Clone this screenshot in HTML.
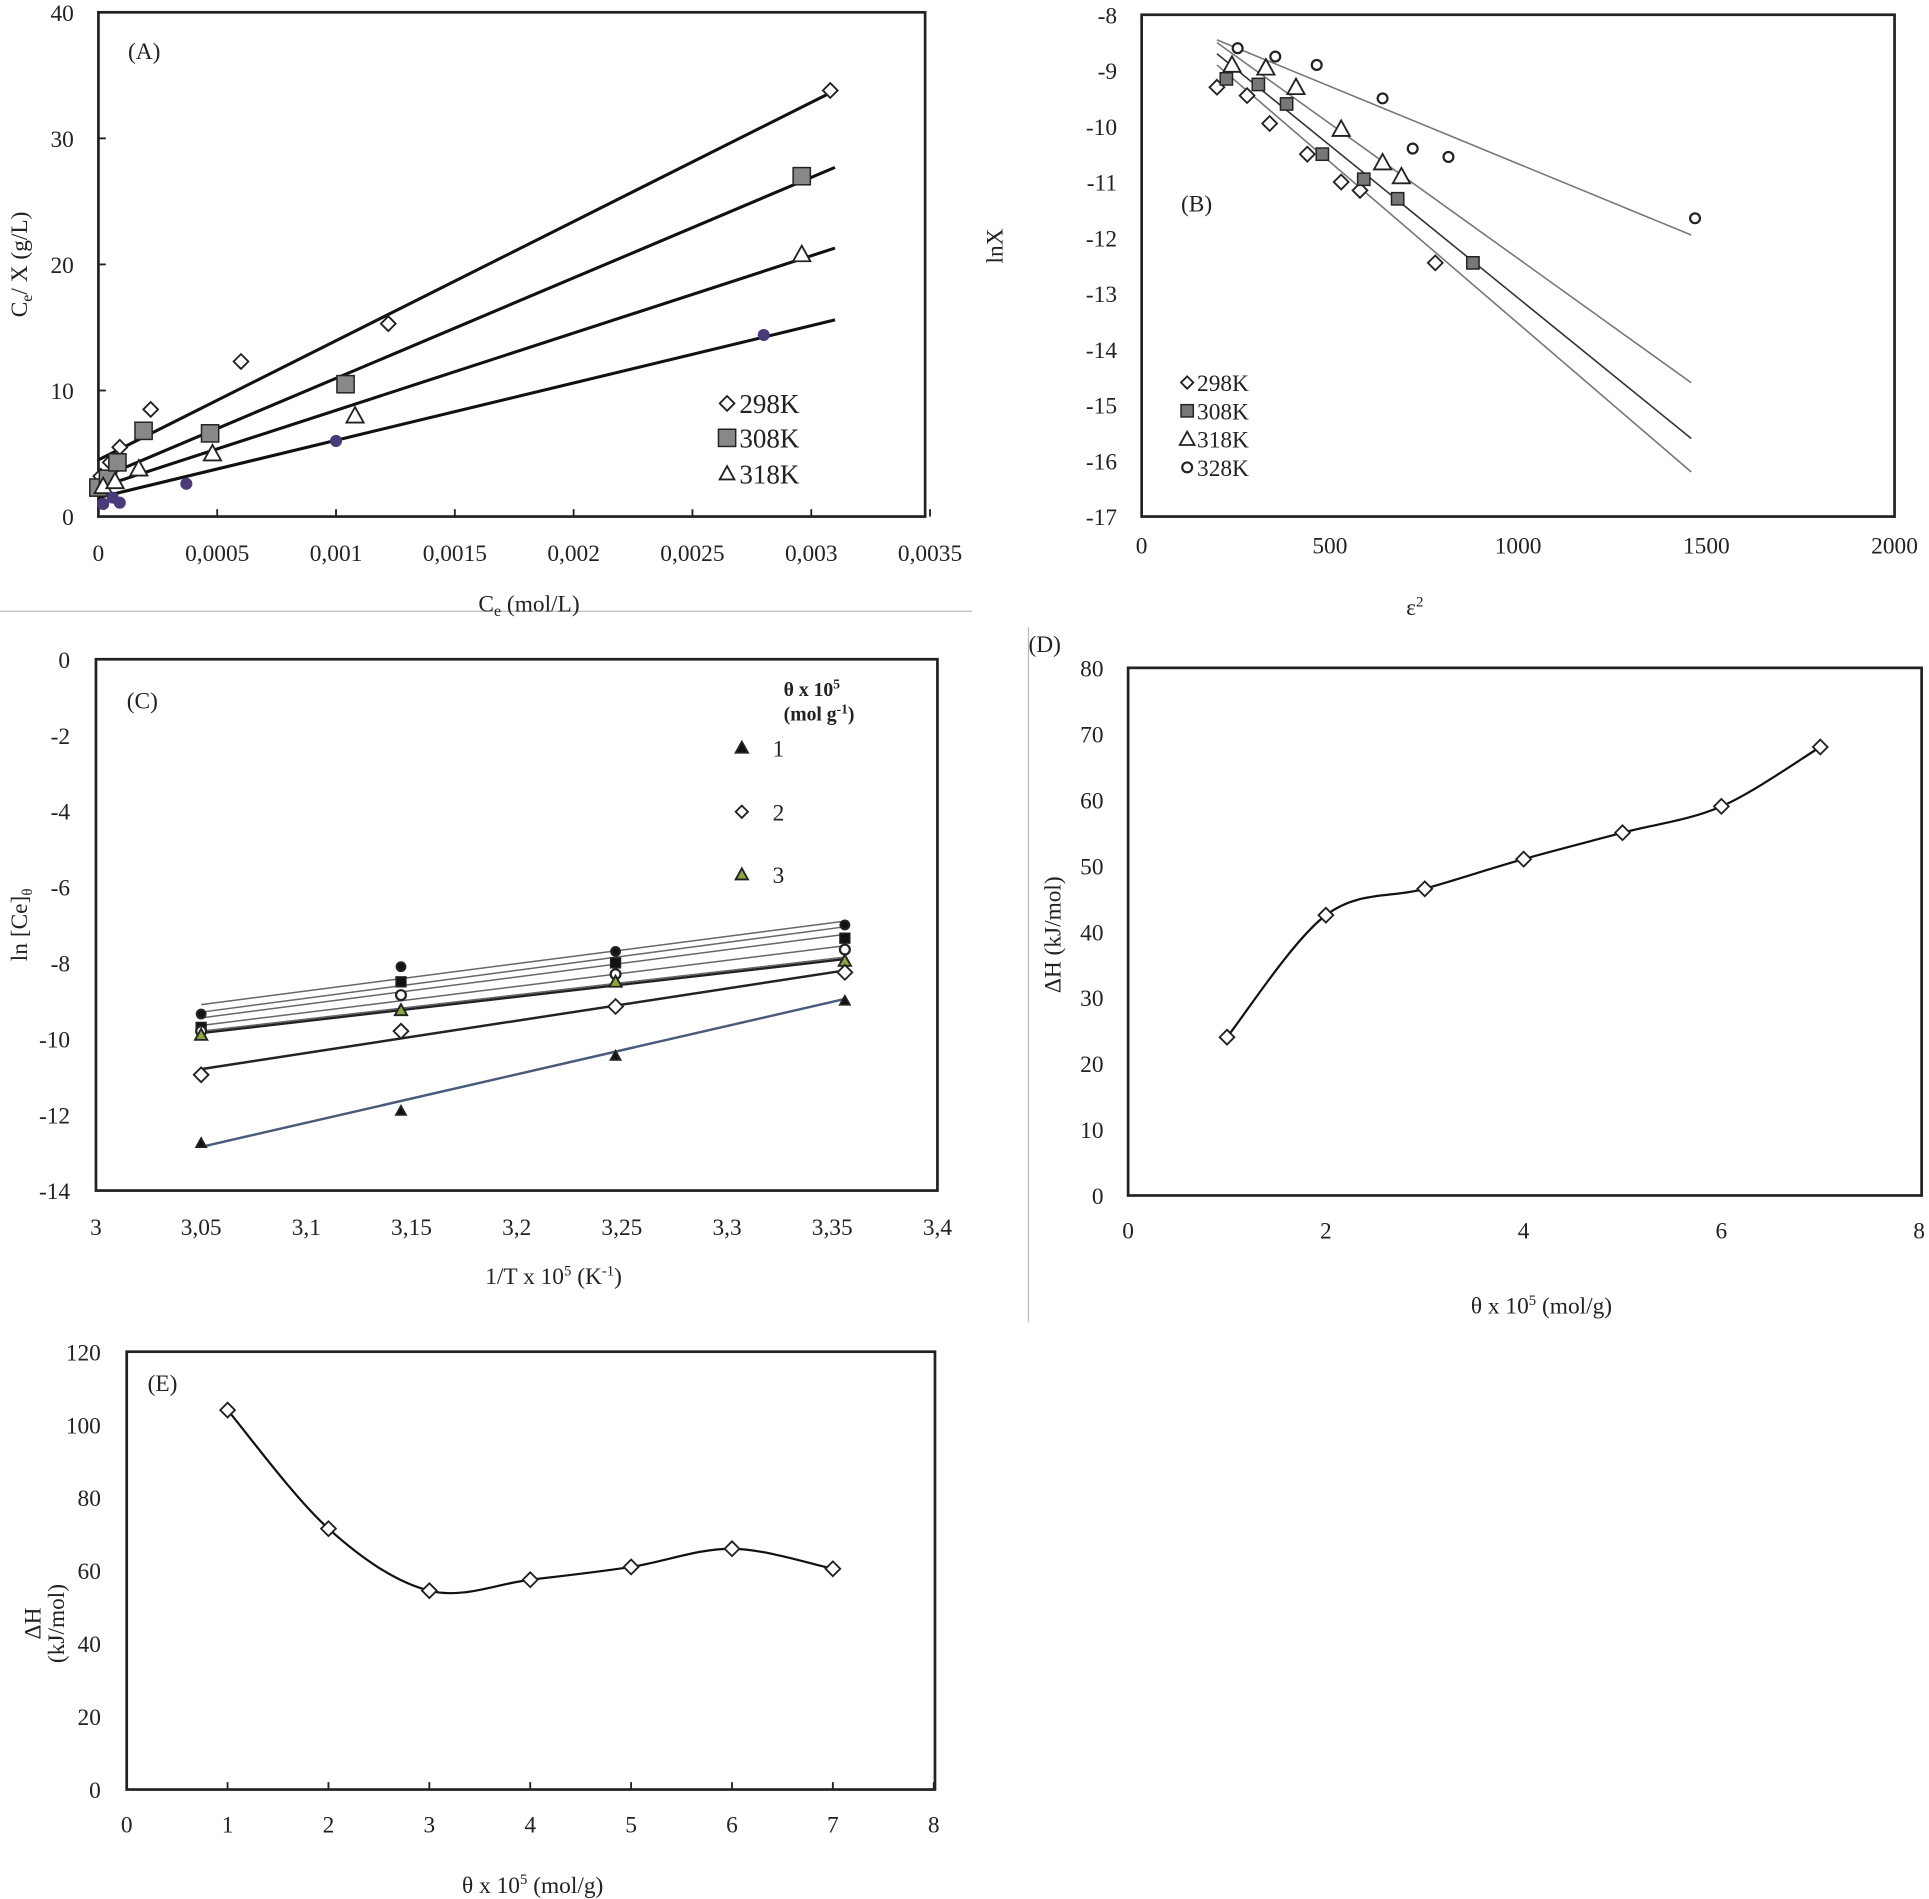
<!DOCTYPE html>
<html><head><meta charset="utf-8"><style>
html,body{margin:0;padding:0;background:#fff}
svg{display:block}
text{font-family:"Liberation Serif",serif;fill:#222}
</style></head><body>
<svg id="fig" width="1929" height="1899" viewBox="0 0 1568 1544" preserveAspectRatio="none" xmlns="http://www.w3.org/2000/svg"></svg>
<script>
// ---- Panel A data ----
const aX298=[0.00001,0.00005,0.00009,0.00022,0.0006,0.00122,0.00308];
const aY298=[3.2,4.3,5.5,8.5,12.3,15.3,33.8];
const aX308=[0.0,0.00004,0.00008,0.00019,0.00047,0.00104,0.00296];
const aY308=[2.3,3.0,4.3,6.8,6.6,10.5,27.0];
const aX318=[0.00002,0.00007,0.00017,0.00048,0.00108,0.00296];
const aY318=[2.4,2.8,3.8,5.0,8.0,20.8];
const aXdot=[0.00002,0.00006,0.00009,0.00037,0.001,0.0028];
const aYdot=[1.0,1.5,1.1,2.6,6.0,14.4];
const aFit=[[4.5,33.8],[3.0,27.7],[2.3,21.3],[1.5,15.6]];
const aXticks=["0","0,0005","0,001","0,0015","0,002","0,0025","0,003","0,0035"];
const aYticks=[0,10,20,30,40];
// ---- Panel B data ----
const bX298=[200,280,340,440,530,580,780];
const bY298=[-9.3,-9.45,-9.95,-10.5,-11.0,-11.15,-12.45];
const bX308=[225,310,385,480,590,680,880];
const bY308=[-9.15,-9.25,-9.6,-10.5,-10.95,-11.3,-12.45];
const bX318=[240,330,410,530,640,690];
const bY318=[-8.9,-8.95,-9.3,-10.05,-10.65,-10.9];
const bX328=[255,355,465,640,720,815,1470];
const bY328=[-8.6,-8.75,-8.9,-9.5,-10.4,-10.55,-11.65];
const bFit=[[-8.9,-16.2],[-8.7,-15.6],[-8.5,-14.6],[-8.45,-11.95]];
const bXticks=[0,500,1000,1500,2000];
const bYticks=[-8,-9,-10,-11,-12,-13,-14,-15,-16,-17];
// ---- Panel C data ----
const cX=[3.05,3.145,3.247,3.356];
const cS1=[-12.75,-11.9,-10.45,-9.0];
const cS2=[-10.95,-9.8,-9.15,-8.25];
const cS3=[-9.9,-9.25,-8.5,-7.95];
const cS4=[-9.8,-8.85,-8.3,-7.65];
const cS5=[-9.7,-8.5,-8.0,-7.35];
const cS6=[-9.35,-8.1,-7.7,-7.0];
const cFit=[[-12.85,-8.95],[-10.8,-8.2],[-9.85,-7.9],[-9.8,-7.85],[-9.65,-7.55],[-9.45,-7.25],[-9.3,-7.05],[-9.1,-6.9]];
const cXticks=["3","3,05","3,1","3,15","3,2","3,25","3,3","3,35","3,4"];
const cYticks=[0,-2,-4,-6,-8,-10,-12,-14];
// ---- Panel D data ----
const dX=[1,2,3,4,5,6,7];
const dY=[24,42.5,46.5,51,55,59,68];
const dXticks=[0,2,4,6,8];
const dYticks=[0,10,20,30,40,50,60,70,80];
// ---- Panel E data ----
const eX=[1,2,3,4,5,6,7];
const eY=[104,71.5,54.5,57.5,61,66,60.5];
const eXticks=[0,1,2,3,4,5,6,7,8];
const eYticks=[0,20,40,60,80,100,120];

const NS="http://www.w3.org/2000/svg";
const svg=document.getElementById('fig');
function el(tag,attrs,parent){const e=document.createElementNS(NS,tag);for(const k in attrs)e.setAttribute(k,attrs[k]);(parent||svg).appendChild(e);return e;}
function txt(s,x,y,opt,parent){const t=el('text',Object.assign({x:x,y:y},opt||{}),parent);t.textContent=s;return t;}
function scale(d0,d1,r0,r1){return v=>r0+(v-d0)/(d1-d0)*(r1-r0);}

function marker(g,type,x,y,fill,sz){
  sz=sz||6;let m;
  if(type==='diamond') m=el('polygon',{points:`${x},${y-sz} ${x+sz},${y} ${x},${y+sz} ${x-sz},${y}`,fill:'#fff',stroke:'#222','stroke-width':1.5},g);
  else if(type==='square') m=el('rect',{x:x-sz,y:y-sz,width:2*sz,height:2*sz,fill:fill||'#888',stroke:'#222','stroke-width':1.2},g);
  else if(type==='triangle') m=el('polygon',{points:`${x},${y-sz} ${x+sz},${y+sz*0.8} ${x-sz},${y+sz*0.8}`,fill:fill||'#fff',stroke:'#222','stroke-width':1.5},g);
  else if(type==='circle') m=el('circle',{cx:x,cy:y,r:sz,fill:fill||'#fff',stroke:'#222','stroke-width':1.8},g);
  
  
  return m;
}
function frame(g,l,t,r,b,name){
  const f=el('rect',{x:l,y:t,width:r-l,height:b-t,fill:'none',stroke:'#222','stroke-width':2.2},g);
  
  
}
function group(name){const g=el('g',{});return g;}
function line(g,x1,y1,x2,y2,st,w,name){const l=el('line',{x1:x1,y1:y1,x2:x2,y2:y2,stroke:st,'stroke-width':w},g);return l;}
function smooth(pts){let d=`M${pts[0][0]},${pts[0][1]}`;for(let i=0;i<pts.length-1;i++){const p0=pts[i-1]||pts[i],p1=pts[i],p2=pts[i+1],p3=pts[i+2]||p2;const c1=[p1[0]+(p2[0]-p0[0])/6,p1[1]+(p2[1]-p0[1])/6],c2=[p2[0]-(p3[0]-p1[0])/6,p2[1]-(p3[1]-p1[1])/6];d+=` C${c1[0]},${c1[1]} ${c2[0]},${c2[1]} ${p2[0]},${p2[1]}`;}return d;}
const FS=19;

// separators
line(svg,0,497,790,497,'#bbb',1,'separator-horizontal');
line(svg,836,510,836,1075,'#bbb',1,'separator-vertical');

// ===== Panel A =====
(function(){
 const g=group('panel-a');
 const X=scale(0,0.0035,80,756),Y=scale(0,40,420,10);
 frame(g,80,10,752,420,'plot-frame-a');
 aYticks.forEach(v=>{const t=txt(String(v),60,Y(v)+7,{'font-size':FS,'text-anchor':'end'},g);line(g,80,Y(v),86,Y(v),'#222',1.5,'y-tick');});
 aXticks.forEach((s,i)=>{const xv=X(i*0.0005);const t=txt(s,xv,456,{'font-size':FS,'text-anchor':'middle'},g);line(g,xv,420,xv,414,'#222',1.5,'x-tick');});
 aFit.forEach(f=>line(g,X(0),Y(f[0]),X(0.0031),Y(f[1]),'#111',2.5));
 aX298.forEach((x,i)=>marker(g,'diamond',X(x),Y(aY298[i]),null,6));
 aX308.forEach((x,i)=>marker(g,'square',X(x),Y(aY308[i]),'#888',7));
 aX318.forEach((x,i)=>marker(g,'triangle',X(x),Y(aY318[i]),'#fff',7));
 aXdot.forEach((x,i)=>marker(g,'circle',X(x),Y(aYdot[i]),'#4a3a7a',4).setAttribute('stroke','#4a3a7a'));
 txt('(A)',104,48,{'font-size':FS},g);
 [['diamond','298K',328,'#fff'],['square','308K',356,'#888'],['triangle','318K',385,'#fff']].forEach(l=>{marker(g,l[0],591,l[2],l[3],l[0]==='square'?7:6);const t=txt(l[1],601,l[2]+8,{'font-size':22},g);});
 const yt=txt('',0,0,{'font-size':FS,'text-anchor':'middle',transform:'translate(22,215) rotate(-90)'},g);
 yt.innerHTML='C<tspan font-size="13" dy="4">e</tspan><tspan dy="-4">/ X (g/L)</tspan>';
 
 const xt=txt('',430,497,{'font-size':FS,'text-anchor':'middle'},g);
 xt.innerHTML='C<tspan font-size="13" dy="4">e</tspan><tspan dy="-4"> (mol/L)</tspan>';
 
})();

// ===== Panel B =====
(function(){
 const g=group('panel-b');
 const X=scale(0,2000,928,1540),Y=scale(-8,-17,12,420);
 frame(g,928,12,1540,420,'plot-frame-b');
 bYticks.forEach(v=>{const t=txt(String(v),908,Y(v)+7,{'font-size':FS,'text-anchor':'end'},g);});
 bXticks.forEach(v=>{const t=txt(String(v),X(v),450,{'font-size':FS,'text-anchor':'middle'},g);});
 bFit.forEach((f,i)=>line(g,X(200),Y(f[0]),X(1460),Y(f[1]),i===1?'#333':'#777',1.3));
 bX298.forEach((x,i)=>marker(g,'diamond',X(x),Y(bY298[i]),null,6));
 bX308.forEach((x,i)=>marker(g,'square',X(x),Y(bY308[i]),'#777',5));
 bX318.forEach((x,i)=>marker(g,'triangle',X(x),Y(bY318[i]),'#fff',7));
 bX328.forEach((x,i)=>marker(g,'circle',X(x),Y(bY328[i]),'#fff',4));
 txt('(B)',960,172,{'font-size':FS},g);
 [['diamond','298K',311,'#fff'],['square','308K',334,'#777'],['triangle','318K',357,'#fff'],['circle','328K',380,'#fff']].forEach(l=>{marker(g,l[0],965,l[2],l[3],l[0]==='circle'?4:(l[0]==='triangle'?6:5));const t=txt(l[1],973,l[2]+7,{'font-size':FS},g);});
 txt('lnX',0,0,{'font-size':FS,'text-anchor':'middle',transform:'translate(815,200) rotate(-90)'},g);
 const xt=txt('',1150,500,{'font-size':FS,'text-anchor':'middle'},g);
 xt.innerHTML='ε<tspan font-size="12" dy="-7">2</tspan>';
 
})();

// ===== Panel C =====
(function(){
 const g=group('panel-c');
 const X=scale(3,3.4,78,762),Y=scale(0,-14,536,968);
 frame(g,78,536,762,968,'plot-frame-c');
 cYticks.forEach(v=>{const t=txt(String(v),57,Y(v)+7,{'font-size':FS,'text-anchor':'end'},g);});
 cXticks.forEach((s,i)=>{const t=txt(s,X(3+i*0.05),1004,{'font-size':FS,'text-anchor':'middle'},g);});
 cFit.forEach((f,i)=>line(g,X(3.05),Y(f[0]),X(3.356),Y(f[1]),i===0?'#4a5a7a':(i<3?'#222':'#666'),i<3?2:1.2));
 cX.forEach((x,i)=>{
  marker(g,'circle',X(x),Y(cS6[i]),'#111',3.5);
  marker(g,'square',X(x),Y(cS5[i]),'#111',4);
  marker(g,'circle',X(x),Y(cS4[i]),'#fff',4);
  marker(g,'triangle',X(x),Y(cS3[i]),'#8aa640',5);
  marker(g,'diamond',X(x),Y(cS2[i]),null,6);
  marker(g,'triangle',X(x),Y(cS1[i]),'#111',4);
 });
 txt('(C)',103,576,{'font-size':FS},g);
 const l1=txt('',637,566,{'font-size':16,'font-weight':'bold'},g);l1.innerHTML='θ x 10<tspan font-size="11" dy="-6">5</tspan>';
 const l2=txt('',637,586,{'font-size':16,'font-weight':'bold'},g);l2.innerHTML='(mol g<tspan font-size="11" dy="-6">-1</tspan><tspan dy="6">)</tspan>';
 [['triangle','1',608,'#111'],['diamond','2',660,null],['triangle','3',711,'#8aa640']].forEach(l=>{marker(g,l[0],603,l[2],l[3],5);const t=txt(l[1],628,l[2]+7,{'font-size':FS},g);});
 const yt=txt('',0,0,{'font-size':FS,'text-anchor':'middle',transform:'translate(22,752) rotate(-90)'},g);
 yt.innerHTML='ln [Ce]<tspan font-size="12" dy="4">θ</tspan>';
 
 const xt=txt('',450,1044,{'font-size':FS,'text-anchor':'middle'},g);
 xt.innerHTML='1/T  x 10<tspan font-size="12" dy="-7">5</tspan><tspan dy="7"> (K</tspan><tspan font-size="12" dy="-7">-1</tspan><tspan dy="7">)</tspan>';
 
})();

// ===== Panel D =====
(function(){
 const g=group('panel-d');
 const X=scale(0,8,917,1560),Y=scale(0,80,972,543);
 frame(g,917,543,1562,972,'plot-frame-d');
 dYticks.forEach(v=>{const t=txt(String(v),897,Y(v)+7,{'font-size':FS,'text-anchor':'end'},g);});
 dXticks.forEach(v=>{const t=txt(String(v),X(v),1007,{'font-size':FS,'text-anchor':'middle'},g);});
 const p=el('path',{d:smooth(dX.map((x,i)=>[X(x),Y(dY[i])])),fill:'none',stroke:'#111','stroke-width':1.8},g);
 
 dX.forEach((x,i)=>marker(g,'diamond',X(x),Y(dY[i]),null,6));
 txt('(D)',836,530,{'font-size':FS},g);
 txt('ΔH  (kJ/mol)',0,0,{'font-size':FS,'text-anchor':'middle',transform:'translate(862,760) rotate(-90)'},g);
 const xt=txt('',1253,1068,{'font-size':FS,'text-anchor':'middle'},g);
 xt.innerHTML='θ x 10<tspan font-size="12" dy="-7">5</tspan><tspan dy="7"> (mol/g)</tspan>';
 
})();

// ===== Panel E =====
(function(){
 const g=group('panel-e');
 const X=scale(0,8,103,759),Y=scale(0,120,1455,1099);
 frame(g,103,1099,760,1455,'plot-frame-e');
 eYticks.forEach(v=>{const t=txt(String(v),82,Y(v)+7,{'font-size':FS,'text-anchor':'end'},g);});
 eXticks.forEach(v=>{const t=txt(String(v),X(v),1490,{'font-size':FS,'text-anchor':'middle'},g);line(g,X(v),1455,X(v),1449,'#222',1.5,'x-tick');});
 const p=el('path',{d:smooth(eX.map((x,i)=>[X(x),Y(eY[i])])),fill:'none',stroke:'#111','stroke-width':1.8},g);
 
 eX.forEach((x,i)=>marker(g,'diamond',X(x),Y(eY[i]),null,6));
 txt('(E)',120,1131,{'font-size':FS},g);
 txt('ΔH',0,0,{'font-size':FS,'text-anchor':'middle',transform:'translate(33,1320) rotate(-90)'},g);
 txt('(kJ/mol)',0,0,{'font-size':FS,'text-anchor':'middle',transform:'translate(52,1320) rotate(-90)'},g);
 const xt=txt('',433,1539,{'font-size':FS,'text-anchor':'middle'},g);
 xt.innerHTML='θ x 10<tspan font-size="12" dy="-7">5</tspan><tspan dy="7"> (mol/g)</tspan>';
 
})();
</script>
</body></html>
